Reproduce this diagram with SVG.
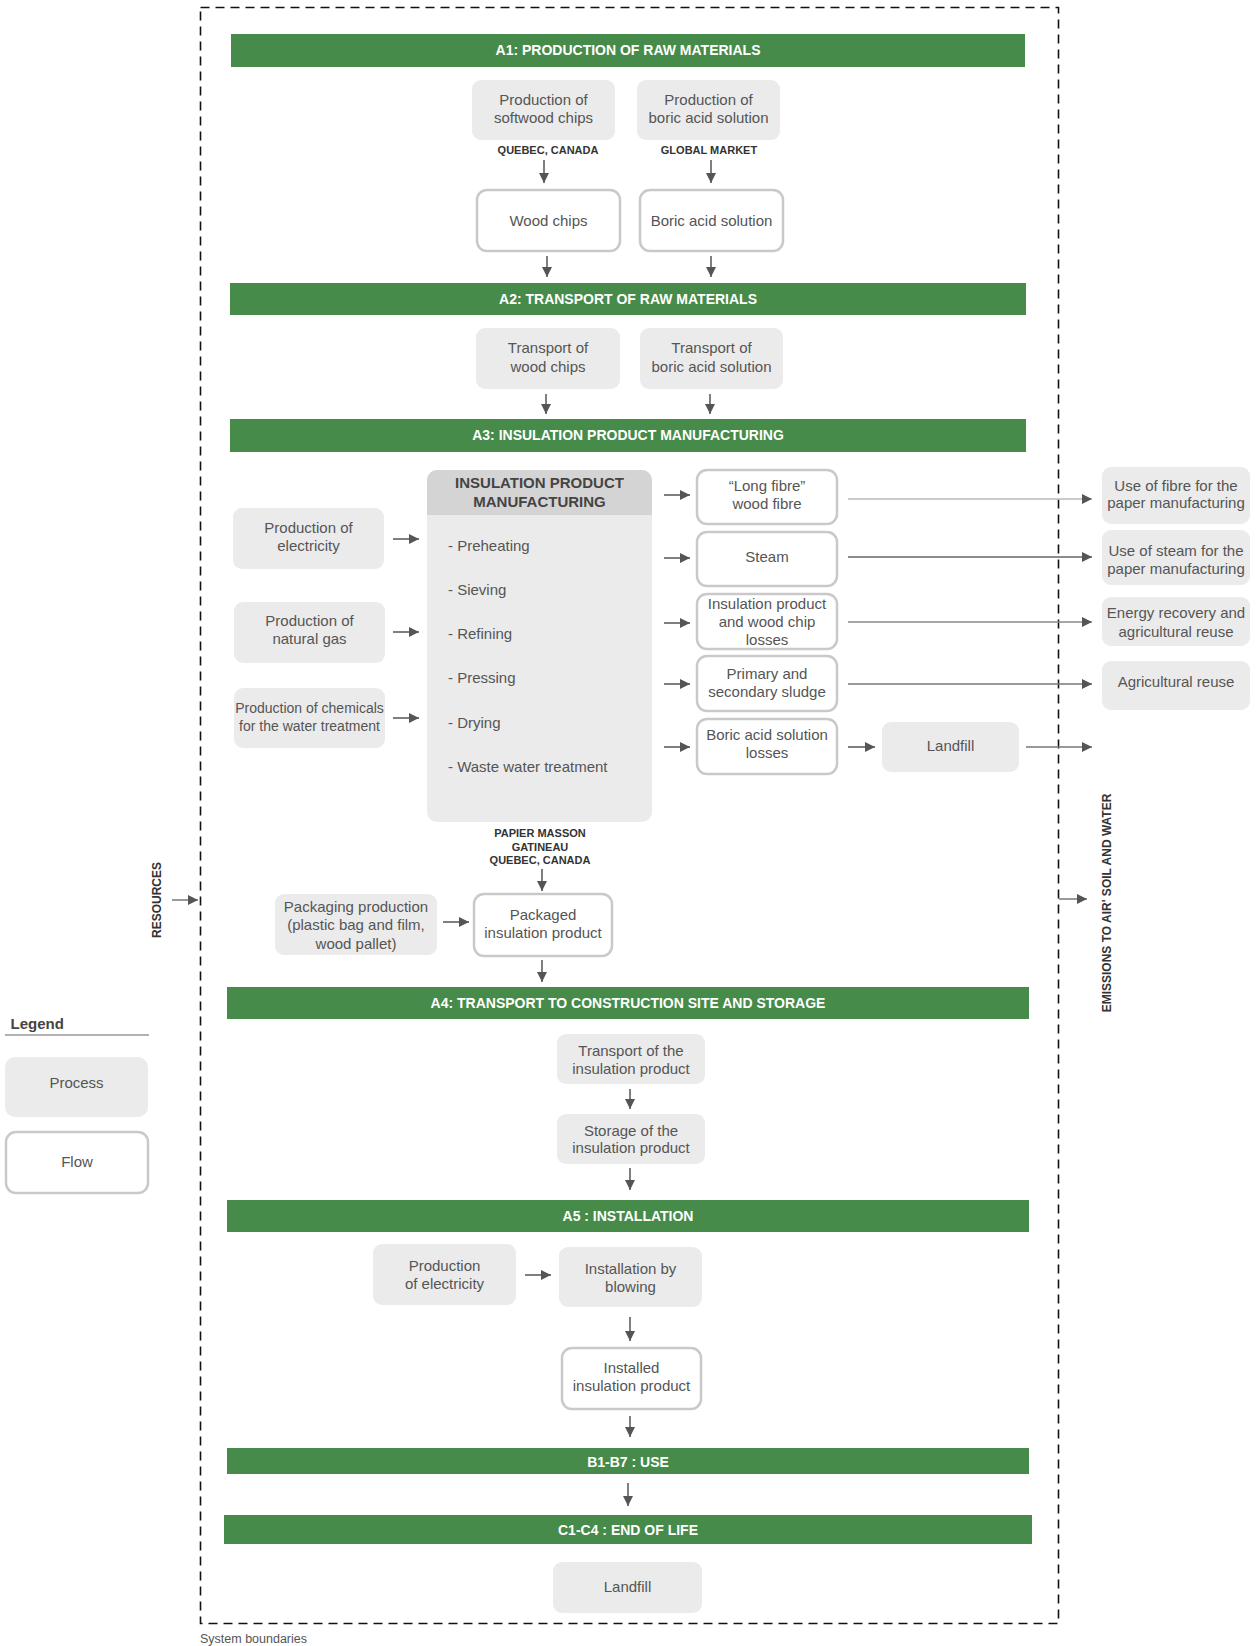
<svg xmlns="http://www.w3.org/2000/svg" width="1257" height="1646" viewBox="0 0 1257 1646">
<style>
.bar{fill:#468b49}
.bt{font:bold 14px 'Liberation Sans',Arial,sans-serif;fill:#fff;text-anchor:middle}
.proc{fill:#ebebeb}
.flow{fill:#fff;stroke:#c9c9c9;stroke-width:2.5}
.t{font:15px 'Liberation Sans',Arial,sans-serif;fill:#555;text-anchor:middle}
.ts{font:14px 'Liberation Sans',Arial,sans-serif;fill:#555;text-anchor:middle}
.tl{font:15px 'Liberation Sans',Arial,sans-serif;fill:#555}
.loc{font:bold 11px 'Liberation Sans',Arial,sans-serif;fill:#333;text-anchor:middle}
.hd{font:bold 15px 'Liberation Sans',Arial,sans-serif;fill:#444;text-anchor:middle}
.side{font:bold 12px 'Liberation Sans',Arial,sans-serif;fill:#333;text-anchor:middle}
.arr{stroke:#555;stroke-width:1.5;fill:none;marker-end:url(#ah)}
.ln{stroke:#777;stroke-width:1.5;fill:none;marker-end:url(#ah)}
</style>
<defs>
<marker id="ah" markerUnits="userSpaceOnUse" markerWidth="11" markerHeight="11" refX="10" refY="5" orient="auto"><path d="M0,0 L10,5 L0,10 z" fill="#555"/></marker>
</defs>
<rect width="1257" height="1646" fill="#fff"/>

<g id="boundary">
<rect x="200.5" y="7.5" width="858" height="1616" fill="none" stroke="#111" stroke-width="1.6" stroke-dasharray="9 6"/>
<text x="200" y="1643" style="font:12.5px 'Liberation Sans',Arial,sans-serif;fill:#555">System boundaries</text>
</g>

<g id="bar-a1"><rect class="bar" x="231" y="34" width="794" height="33"/><text class="bt" x="628" y="55">A1: PRODUCTION OF RAW MATERIALS</text></g>
<g id="bar-a2"><rect class="bar" x="230" y="283" width="796" height="32"/><text class="bt" x="628" y="304">A2: TRANSPORT OF RAW MATERIALS</text></g>
<g id="bar-a3"><rect class="bar" x="230" y="419" width="796" height="33"/><text class="bt" x="628" y="440">A3: INSULATION PRODUCT MANUFACTURING</text></g>
<g id="bar-a4"><rect class="bar" x="227" y="987" width="802" height="32"/><text class="bt" x="628" y="1008">A4: TRANSPORT TO CONSTRUCTION SITE AND STORAGE</text></g>
<g id="bar-a5"><rect class="bar" x="227" y="1200" width="802" height="32"/><text class="bt" x="628" y="1221">A5 : INSTALLATION</text></g>
<g id="bar-b"><rect class="bar" x="227" y="1448" width="802" height="26"/><text class="bt" x="628" y="1467">B1-B7 : USE</text></g>
<g id="bar-c"><rect class="bar" x="224" y="1515" width="808" height="29"/><text class="bt" x="628" y="1535">C1-C4 : END OF LIFE</text></g>

<g id="p-softwood"><rect class="proc" x="472" y="80" width="143" height="60" rx="9"/><text class="t" x="543.5" y="105">Production of</text><text class="t" x="543.5" y="123">softwood chips</text><text class="loc" x="548" y="154">QUEBEC, CANADA</text></g>
<g id="p-boric"><rect class="proc" x="637" y="80" width="143" height="60" rx="9"/><text class="t" x="708.5" y="105">Production of</text><text class="t" x="708.5" y="123">boric acid solution</text><text class="loc" x="709" y="154">GLOBAL MARKET</text></g>
<g id="f-woodchips"><rect class="flow" x="477" y="190" width="143" height="61" rx="10"/><text class="t" x="548.5" y="226">Wood chips</text></g>
<g id="f-boric"><rect class="flow" x="640" y="190" width="143" height="61" rx="10"/><text class="t" x="711.5" y="226">Boric acid solution</text></g>
<g id="p-tr-wood"><rect class="proc" x="476" y="328" width="144" height="61" rx="9"/><text class="t" x="548" y="353">Transport of</text><text class="t" x="548" y="372">wood chips</text></g>
<g id="p-tr-boric"><rect class="proc" x="640" y="328" width="143" height="61" rx="9"/><text class="t" x="711.5" y="353">Transport of</text><text class="t" x="711.5" y="372">boric acid solution</text></g>

<g id="p-manufacturing">
<rect x="427" y="470" width="225" height="352" rx="10" fill="#ebebeb"/>
<path d="M437,470 H642 A10,10 0 0 1 652,480 V515 H427 V480 A10,10 0 0 1 437,470 Z" fill="#d4d4d4"/>
<text class="hd" x="539.5" y="488">INSULATION PRODUCT</text>
<text class="hd" x="539.5" y="507">MANUFACTURING</text>
<text class="tl" x="448" y="551">- Preheating</text>
<text class="tl" x="448" y="595">- Sieving</text>
<text class="tl" x="448" y="639">- Refining</text>
<text class="tl" x="448" y="683">- Pressing</text>
<text class="tl" x="448" y="728">- Drying</text>
<text class="tl" x="448" y="772">- Waste water treatment</text>
<text class="loc" x="540" y="837">PAPIER MASSON</text>
<text class="loc" x="540" y="851">GATINEAU</text>
<text class="loc" x="540" y="864">QUEBEC, CANADA</text>
</g>
<g id="p-elec"><rect class="proc" x="233" y="508" width="151" height="61" rx="9"/><text class="t" x="308.5" y="533">Production of</text><text class="t" x="308.5" y="551">electricity</text></g>
<g id="p-gas"><rect class="proc" x="234" y="602" width="151" height="61" rx="9"/><text class="t" x="309.5" y="626">Production of</text><text class="t" x="309.5" y="644">natural gas</text></g>
<g id="p-chem"><rect class="proc" x="234" y="688" width="151" height="60" rx="9"/><text class="ts" x="309.5" y="713">Production of chemicals</text><text class="ts" x="309.5" y="731">for the water treatment</text></g>

<g id="f-longfibre"><rect class="flow" x="697" y="470" width="140" height="54" rx="10"/><text class="t" x="767" y="491">“Long fibre”</text><text class="t" x="767" y="509">wood fibre</text></g>
<g id="f-steam"><rect class="flow" x="697" y="532" width="140" height="54" rx="10"/><text class="t" x="767" y="562">Steam</text></g>
<g id="f-losses"><rect class="flow" x="697" y="594" width="140" height="55" rx="10"/><text class="t" x="767" y="609">Insulation product</text><text class="t" x="767" y="627">and wood chip</text><text class="t" x="767" y="645">losses</text></g>
<g id="f-sludge"><rect class="flow" x="697" y="656" width="140" height="55" rx="10"/><text class="t" x="767" y="679">Primary and</text><text class="t" x="767" y="697">secondary sludge</text></g>
<g id="f-boriclosses"><rect class="flow" x="697" y="719" width="140" height="55" rx="10"/><text class="t" x="767" y="740">Boric acid solution</text><text class="t" x="767" y="758">losses</text></g>
<g id="p-landfill1"><rect class="proc" x="882" y="722" width="137" height="50" rx="9"/><text class="t" x="950.5" y="751">Landfill</text></g>

<g id="p-usefibre"><rect class="proc" x="1102" y="467" width="148" height="57" rx="9"/><text class="t" x="1176" y="491">Use of fibre for the</text><text class="t" x="1176" y="508">paper manufacturing</text></g>
<g id="p-usesteam"><rect class="proc" x="1102" y="530" width="148" height="55" rx="9"/><text class="t" x="1176" y="556">Use of steam for the</text><text class="t" x="1176" y="574">paper manufacturing</text></g>
<g id="p-energy"><rect class="proc" x="1102" y="597" width="148" height="49" rx="9"/><text class="t" x="1176" y="618">Energy recovery and</text><text class="t" x="1176" y="637">agricultural reuse</text></g>
<g id="p-agri"><rect class="proc" x="1102" y="661" width="148" height="49" rx="9"/><text class="t" x="1176" y="687">Agricultural reuse</text></g>

<g id="p-packaging"><rect class="proc" x="275" y="894" width="162" height="61" rx="9"/><text class="t" x="356" y="912">Packaging production</text><text class="t" x="356" y="930">(plastic bag and film,</text><text class="t" x="356" y="949">wood pallet)</text></g>
<g id="f-packaged"><rect class="flow" x="474" y="894" width="138" height="62" rx="10"/><text class="t" x="543" y="920">Packaged</text><text class="t" x="543" y="938">insulation product</text></g>

<g id="p-transport"><rect class="proc" x="557" y="1034" width="148" height="50" rx="9"/><text class="t" x="631" y="1056">Transport of the</text><text class="t" x="631" y="1074">insulation product</text></g>
<g id="p-storage"><rect class="proc" x="557" y="1114" width="148" height="50" rx="9"/><text class="t" x="631" y="1136">Storage of the</text><text class="t" x="631" y="1153">insulation product</text></g>

<g id="p-elec2"><rect class="proc" x="373" y="1244" width="143" height="61" rx="9"/><text class="t" x="444.5" y="1271">Production</text><text class="t" x="444.5" y="1289">of electricity</text></g>
<g id="p-install"><rect class="proc" x="559" y="1247" width="143" height="60" rx="9"/><text class="t" x="630.5" y="1274">Installation by</text><text class="t" x="630.5" y="1292">blowing</text></g>
<g id="f-installed"><rect class="flow" x="562" y="1348" width="139" height="61" rx="10"/><text class="t" x="631.5" y="1373">Installed</text><text class="t" x="631.5" y="1391">insulation product</text></g>

<g id="p-landfill2"><rect class="proc" x="553" y="1562" width="149" height="51" rx="9"/><text class="t" x="627.5" y="1592">Landfill</text></g>

<g id="legend">
<text x="10.5" y="1029" style="font:bold 15px 'Liberation Sans',Arial,sans-serif;fill:#444">Legend</text>
<line x1="5" y1="1035" x2="149" y2="1035" stroke="#999" stroke-width="1.5"/>
<rect class="proc" x="5" y="1057" width="143" height="60" rx="10"/><text class="t" x="76.5" y="1088">Process</text>
<rect class="flow" x="6" y="1132" width="142" height="61" rx="10"/><text class="t" x="77" y="1167">Flow</text>
</g>

<g id="side-labels">
<text class="side" transform="translate(161,900) rotate(-90)">RESOURCES</text>
<text class="side" transform="translate(1111,903) rotate(-90)">EMISSIONS TO AIR' SOIL AND WATER</text>
</g>

<g id="connectors">
<line class="arr" x1="544" y1="160" x2="544" y2="183"/>
<line class="arr" x1="711" y1="160" x2="711" y2="183"/>
<line class="arr" x1="547" y1="256" x2="547" y2="277"/>
<line class="arr" x1="711" y1="256" x2="711" y2="277"/>
<line class="arr" x1="546" y1="394" x2="546" y2="414"/>
<line class="arr" x1="710" y1="394" x2="710" y2="414"/>
<line class="arr" x1="393" y1="539" x2="419" y2="539"/>
<line class="arr" x1="393" y1="632" x2="419" y2="632"/>
<line class="arr" x1="393" y1="718" x2="419" y2="718"/>
<line class="arr" x1="664" y1="495" x2="690" y2="495"/>
<line class="arr" x1="664" y1="558" x2="690" y2="558"/>
<line class="arr" x1="664" y1="623" x2="690" y2="623"/>
<line class="arr" x1="664" y1="684" x2="690" y2="684"/>
<line class="arr" x1="664" y1="747" x2="690" y2="747"/>
<line class="ln" x1="848" y1="499" x2="1092" y2="499" style="stroke:#b8b8b8"/>
<line class="ln" x1="848" y1="557" x2="1092" y2="557" style="stroke:#666"/>
<line class="ln" x1="848" y1="622" x2="1092" y2="622" style="stroke:#8a8a8a"/>
<line class="ln" x1="848" y1="684" x2="1092" y2="684"/>
<line class="arr" x1="848" y1="747" x2="875" y2="747"/>
<line class="ln" x1="1026" y1="747" x2="1092" y2="747"/>
<line class="arr" x1="542" y1="869" x2="542" y2="891"/>
<line class="arr" x1="443" y1="922" x2="469" y2="922"/>
<line class="arr" x1="542" y1="960" x2="542" y2="982"/>
<line class="arr" x1="630" y1="1089" x2="630" y2="1109"/>
<line class="arr" x1="630" y1="1168" x2="630" y2="1190"/>
<line class="arr" x1="525" y1="1275" x2="551" y2="1275"/>
<line class="arr" x1="630" y1="1317" x2="630" y2="1341"/>
<line class="arr" x1="630" y1="1416" x2="630" y2="1437"/>
<line class="arr" x1="628" y1="1483" x2="628" y2="1506"/>
<line class="arr" x1="172" y1="900" x2="198" y2="900" style="stroke:#777"/>
<line class="arr" x1="1059" y1="899" x2="1087" y2="899" style="stroke:#777"/>
</g>
</svg>
